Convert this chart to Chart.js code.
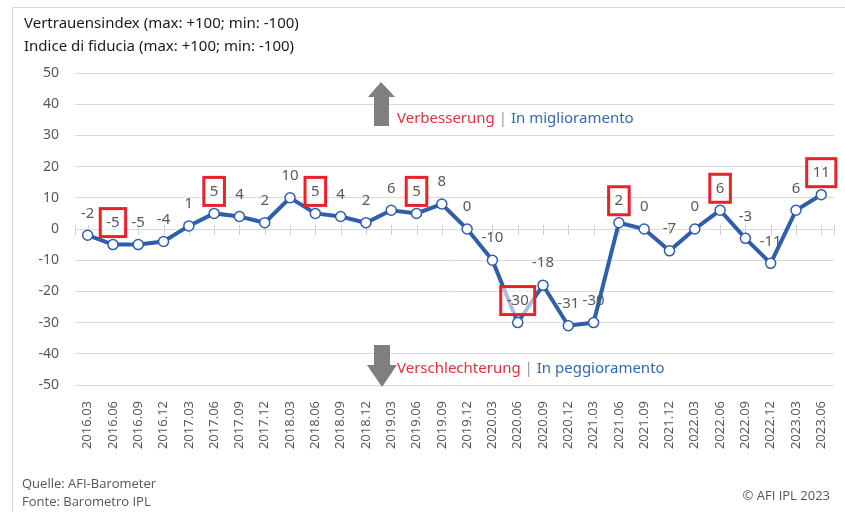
<!DOCTYPE html>
<html>
<head>
<meta charset="utf-8">
<script src="https://cdn.jsdelivr.net/npm/chart.js@4"></script>
<style>
    body { margin: 0; width: 845px; height: 512px; overflow: hidden; background: #fff; font-family: 'Noto Sans', sans-serif; }
    #frame { position: absolute; left: 12px; top: 7px; width: 840px; height: 520px; border-left: 1px solid #d9d9d9; border-top: 1px solid #d9d9d9; }
    #wrap { position: absolute; left: 0; top: 0; width: 845px; height: 512px; }
    .title { position: absolute; left: 24px; font-size: 15px; color: #1a1a1a; line-height: 20px; }
    .foot { position: absolute; font-family: 'Liberation Sans Narrow', 'Open Sans', sans-serif; font-size: 13px; color: #555; line-height: 18px; }
    .note { position: absolute; left: 397px; font-size: 15px; white-space: nowrap; line-height: 20px; }
    .de { color: #e3303a; }
    .sep { color: #999; }
    .it { color: #3468b4; }
</style>
</head>
<body>
<div id="frame"></div>
<div id="wrap"><canvas id="chart" width="845" height="512"></canvas></div>
<div class="title" style="top:12px">Vertrauensindex (max: +100; min: -100)</div>
<div class="title" style="top:35px">Indice di fiducia (max: +100; min: -100)</div>
<div class="note" style="top:107px"><span class="de">Verbesserung</span> <span class="sep">|</span> <span class="it">In miglioramento</span></div>
<div class="note" style="top:357px"><span class="de">Verschlechterung</span> <span class="sep">|</span> <span class="it">In peggioramento</span></div>
<div class="foot" style="left:22px;top:474px">Quelle: AFI-Barometer<br>Fonte: Barometro IPL</div>
<div class="foot" style="right:15px;top:486px">© AFI IPL 2023</div>
<script>
// Quarters surveyed
const quarters = [
    '2016.03', '2016.06', '2016.09', '2016.12',
    '2017.03', '2017.06', '2017.09', '2017.12',
    '2018.03', '2018.06', '2018.09', '2018.12',
    '2019.03', '2019.06', '2019.09', '2019.12',
    '2020.03', '2020.06', '2020.09', '2020.12',
    '2021.03', '2021.06', '2021.09', '2021.12',
    '2022.03', '2022.06', '2022.09', '2022.12',
    '2023.03', '2023.06'
];

// Confidence index values
const indexValues = [
    -2, -5, -5, -4,
    1, 5, 4, 2,
    10, 5, 4, 2,
    6, 5, 8, 0,
    -10, -30, -18, -31,
    -30, 2, 0, -7,
    0, 6, -3, -11,
    6, 11
];

// Quarters whose label is highlighted with a red box
const boxedQuarters = [
    '2016.06', '2017.06', '2018.06', '2019.06',
    '2020.06', '2021.06', '2022.06', '2023.06'
];

const yTicks = [-50, -40, -30, -20, -10, 0, 10, 20, 30, 40, 50];

const LINE_BLUE = '#2f5fab';
const TEXT_GREY = '#595959';

/**
 * Draws the value above each point, boxed for the June quarters
 */
const valueLabels = {
    id: 'valueLabels',
    afterDatasetsDraw(chart) {
        const ctx = chart.ctx;
        const meta = chart.getDatasetMeta(0);
        ctx.save();
        ctx.font = '15px "Noto Sans", sans-serif';
        ctx.textAlign = 'center';
        ctx.textBaseline = 'middle';
        meta.data.forEach((pt, i) => {
            const text = String(indexValues[i]);
            const x = pt.x;
            const y = pt.y - 22;
            if (boxedQuarters.includes(quarters[i])) {
                const w = ctx.measureText(text).width + 12;
                const h = 28;
                ctx.fillStyle = 'rgba(255,255,255,0.6)';
                ctx.fillRect(x - w / 2, y - h / 2, w, h);
                ctx.strokeStyle = '#e8212b';
                ctx.lineWidth = 3;
                ctx.strokeRect(x - w / 2, y - h / 2, w, h);
            }
            ctx.fillStyle = TEXT_GREY;
            ctx.fillText(text, x, y);
        });
        ctx.restore();
    }
};

/**
 * Small tick marks on the zero line plus the two grey arrows
 */
const decorations = {
    id: 'decorations',
    beforeDatasetsDraw(chart) {
        const ctx = chart.ctx;
        const xs = chart.scales.x;
        const y0 = chart.scales.y.getPixelForValue(0);
        ctx.save();
        ctx.strokeStyle = '#d0d0d0';
        ctx.lineWidth = 1;
        const half = (xs.getPixelForValue(1) - xs.getPixelForValue(0)) / 2;
        const marks = quarters.map((q, i) => xs.getPixelForValue(i));
        marks.push(xs.getPixelForValue(quarters.length - 1) + half);
        marks.unshift(xs.getPixelForValue(0) - half);
        marks.forEach(x => {
            ctx.beginPath();
            ctx.moveTo(Math.round(x) + 0.5, y0 - 4);
            ctx.lineTo(Math.round(x) + 0.5, y0 + 6);
            ctx.stroke();
        });
        ctx.restore();
    },
    afterDraw(chart) {
        const ctx = chart.ctx;
        ctx.save();
        ctx.fillStyle = '#7f7f7f';
        // up arrow
        ctx.beginPath();
        ctx.moveTo(381, 82);
        ctx.lineTo(395, 97);
        ctx.lineTo(389, 97);
        ctx.lineTo(389, 126);
        ctx.lineTo(374, 126);
        ctx.lineTo(374, 97);
        ctx.lineTo(368, 97);
        ctx.closePath();
        ctx.fill();
        // down arrow
        ctx.beginPath();
        ctx.moveTo(374, 345);
        ctx.lineTo(390, 345);
        ctx.lineTo(390, 365);
        ctx.lineTo(397, 365);
        ctx.lineTo(382, 387);
        ctx.lineTo(367, 365);
        ctx.lineTo(374, 365);
        ctx.closePath();
        ctx.fill();
        ctx.restore();
    }
};

function createIndexChart(elementId) {
    const ctx = document.getElementById(elementId).getContext('2d');

    new Chart(ctx, {
        type: 'line',
        data: {
            labels: quarters,
            datasets: [{
                data: indexValues,
                borderColor: LINE_BLUE,
                borderWidth: 4,
                backgroundColor: '#fff',
                pointBackgroundColor: '#fff',
                pointBorderColor: LINE_BLUE,
                pointBorderWidth: 1.5,
                pointRadius: 5,
                tension: 0
            }]
        },
        options: {
            responsive: false,
            animation: false,
            layout: {
                padding: { top: 73, right: 7, bottom: 0, left: 0 }
            },
            scales: {
                x: {
                    offset: true,
                    grid: { display: false },
                    border: { display: false },
                    ticks: {
                        autoSkip: false,
                        minRotation: 90,
                        maxRotation: 90,
                        padding: 8,
                        color: TEXT_GREY,
                        font: { family: '"Noto Sans", sans-serif', size: 13 }
                    },
                    afterFit(scale) { scale.height = 127; }
                },
                y: {
                    min: -50,
                    max: 50,
                    afterBuildTicks(scale) {
                        scale.ticks = yTicks.map(v => ({ value: v }));
                    },
                    grid: {
                        color: '#d9d9d9',
                        drawTicks: false
                    },
                    border: { display: false },
                    ticks: {
                        padding: 16,
                        color: TEXT_GREY,
                        font: { family: '"Noto Sans", sans-serif', size: 14 }
                    },
                    afterFit(scale) { scale.width = 75; }
                }
            },
            plugins: {
                legend: { display: false },
                tooltip: { enabled: false }
            }
        },
        plugins: [decorations, valueLabels]
    });
}

createIndexChart('chart');
</script>
</body>
</html>
